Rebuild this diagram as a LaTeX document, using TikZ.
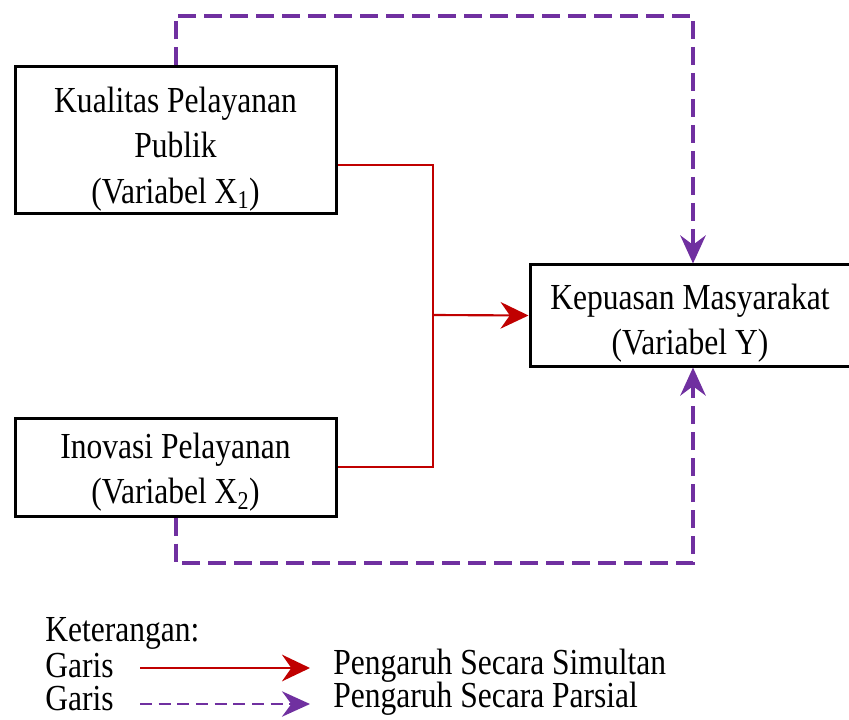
\documentclass[tikz,border=0pt]{standalone}
\usepackage{fontspec}
\setmainfont[FakeStretch=0.86]{Liberation Serif}
\usepackage{xcolor}
\usepackage{tikz}
\usetikzlibrary{arrows.meta,calc}

\definecolor{merah}{HTML}{C00000}
\definecolor{ungu}{HTML}{7030A0}

\tikzset{
  kotak/.style={draw=black,line width=2.25pt,inner sep=0pt},
  isi/.style={align=center,inner sep=0pt},
  simul/.style={draw=merah,line width=1.6pt,-{Stealth[length=21pt,width=20pt,inset=7pt]}},
  parsial/.style={draw=ungu,line width=3pt,dash pattern=on 13.5pt off 6pt,-{Stealth[length=21pt,width=19pt,inset=7pt]}},
  teks/.style={font=\fontsize{27.5}{34}\selectfont}
}

\begin{document}
\begin{tikzpicture}[x=0.75pt,y=-0.75pt,teks]
  \useasboundingbox (0,0) rectangle (849,720);
      \node[kotak,minimum width=240.75pt,minimum height=110.25pt] (x1) at (175.5,140.5) {};
      \node[kotak,minimum width=240.75pt,minimum height=73.5pt] (x2) at (175.5,467) {};
      \node[kotak,minimum width=244.5pt,minimum height=75.75pt] (y) at (693,315.5) {};
      \node[isi] (x1t) at (175.5,149) {Kualitas Pelayanan\\Publik\\(Variabel X\textsubscript{1})};
      \node[isi] (x2t) at (175.5,472.5) {Inovasi Pelayanan\\(Variabel X\textsubscript{2})};
      \node[isi] (yt) at (690,323.5) {Kepuasan Masyarakat\\(Variabel Y)};
        % simultan
      \coordinate (j) at (433,315);
      \draw[simul,-] ($(x1.east)+(0,24.5)$) -| (j) |- (x2.east);
      \draw[simul] (j) -- (y.west);
        % parsial
      \draw[parsial] (x1.north) -- (x1.north |- 0,16) -| (y.north);
      \draw[parsial] (x2.south) -- (x2.south |- 0,563) -| (y.south);
        % keterangan
    \node[anchor=west,inner xsep=0pt] (ket) at (45,633) {Keterangan:};
    \node[anchor=west,inner xsep=0pt] (g1) at (45,666) {Garis};
    \node[anchor=west,inner xsep=0pt] (g2) at (45,699) {Garis};
    \coordinate (a1) at (140,668);
    \coordinate (b1) at (310,668);
    \coordinate (a2) at (140,704);
    \coordinate (b2) at (310,704);
    \draw[simul] (a1) -- (b1);
    \draw[parsial,line width=2pt,dash pattern=on 9pt off 5pt] (a2) -- (b2);
    \node[anchor=west,inner xsep=0pt] (p1) at (333,666) {Pengaruh Secara Simultan};
    \node[anchor=west,inner xsep=0pt] (p2) at (333,699) {Pengaruh Secara Parsial};
    \end{tikzpicture}
\end{document}
